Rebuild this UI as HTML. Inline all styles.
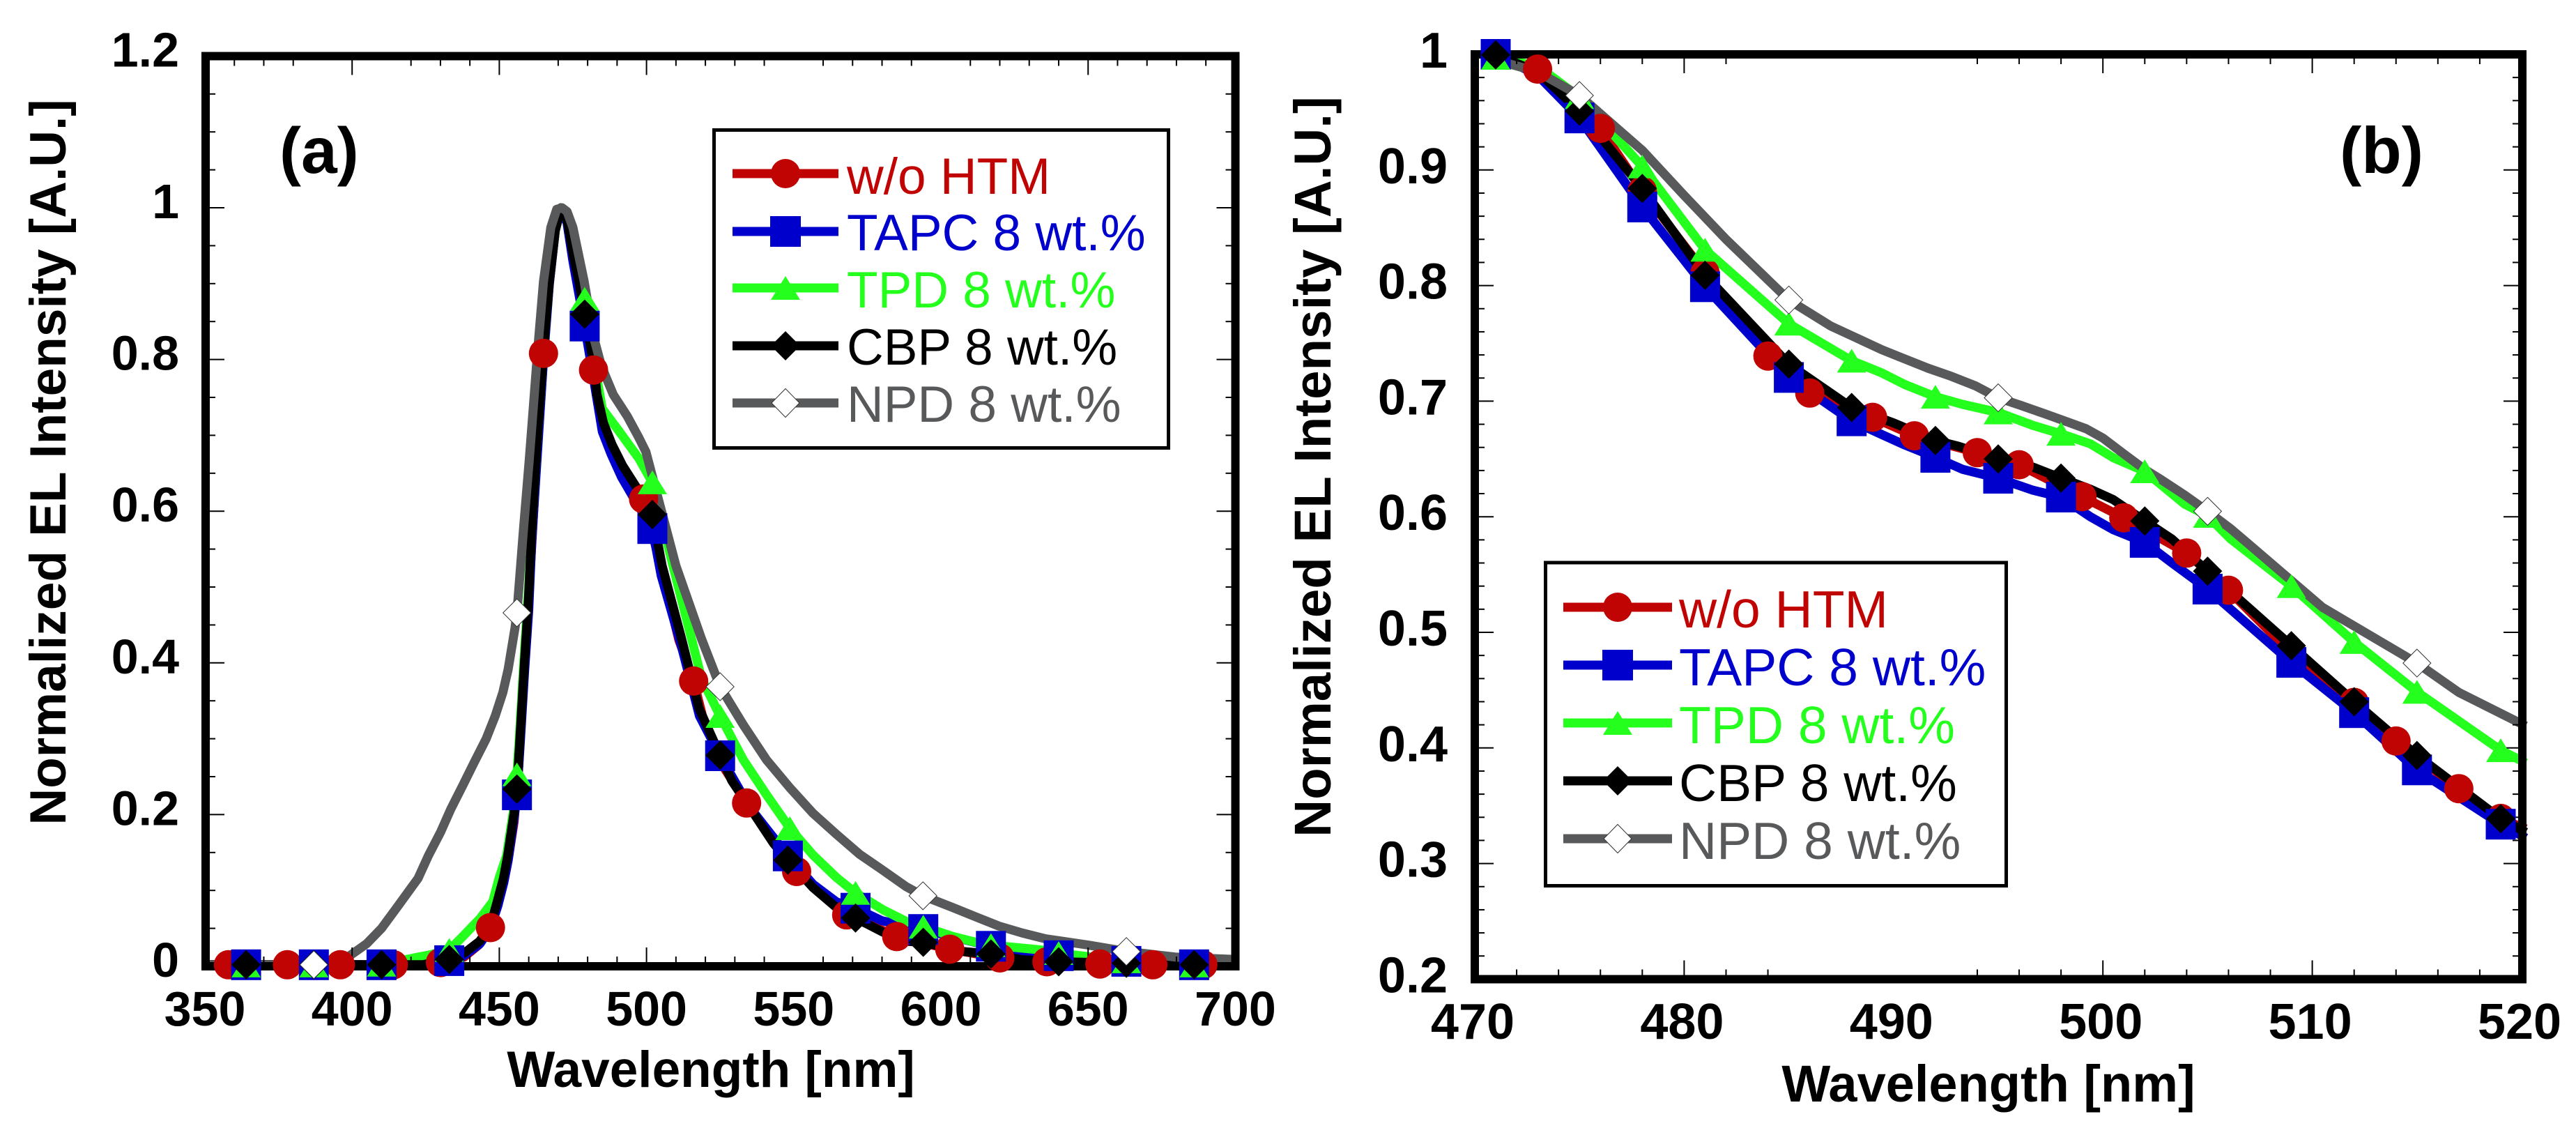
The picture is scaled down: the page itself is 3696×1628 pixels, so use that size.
<!DOCTYPE html>
<html lang="en">
<head>
<meta charset="utf-8">
<title>Normalized EL Intensity spectra</title>
<style>
html,body{margin:0;padding:0;background:#fff}
svg{display:block}
text{font-family:"Liberation Sans",Arial,sans-serif;fill:#000}
.b{font-weight:bold}
.tick{font-weight:bold;font-size:70px}
.tickb{font-weight:bold;font-size:72px}
.leg{font-size:73px}
</style>
</head>
<body>
<svg xmlns="http://www.w3.org/2000/svg" width="3696" height="1628" viewBox="0 0 3696 1628">
  <rect x="0" y="0" width="3696" height="1628" fill="#fff"/>

  <!-- Panel (a) -->
  <g id="a-lines"></g>
  <rect x="295" y="80.5" width="1477.5" height="1305.5" fill="none" stroke="#000" stroke-width="12"/>
  <g id="a-ticks"></g>
  <g id="a-marks"></g>
  <text x="1020" y="1559" text-anchor="middle" class="b" font-size="73">Wavelength [nm]</text>
  <text transform="translate(94,663) rotate(-90)" text-anchor="middle" class="b" font-size="73">Normalized EL Intensity [A.U.]</text>
  <text x="401" y="248" class="b" font-size="93">(a)</text>
  <g>
    <rect x="1024.5" y="186.5" width="652" height="456" fill="#fff" stroke="#000" stroke-width="5"/>
    <g><rect x="1051" y="242.5" width="152" height="13" fill="#C00404"/><circle cx="1127" cy="249" r="21" fill="#C00404"/><text x="1215" y="278" class="leg" style="fill:#C00404">w/o HTM</text></g>
    <g><rect x="1051" y="325.5" width="152" height="13" fill="#0000CC"/><rect x="1105" y="310" width="44" height="44" fill="#0000CC"/><text x="1215" y="359" class="leg" style="fill:#0000CC">TAPC 8 wt.%</text></g>
    <g><rect x="1051" y="406.5" width="152" height="13" fill="#25FF1E"/><polygon points="1127,396 1148,430 1106,430" fill="#25FF1E"/><text x="1215" y="441" class="leg" style="fill:#25FF1E">TPD 8 wt.%</text></g>
    <g><rect x="1051" y="489.5" width="152" height="13" fill="#000"/><polygon points="1127,475 1148,496 1127,517 1106,496" fill="#000"/><text x="1215" y="523" class="leg" style="fill:#000">CBP 8 wt.%</text></g>
    <g><rect x="1051" y="571.5" width="152" height="13" fill="#58595B"/><polygon points="1127,557.5 1147,578 1127,598.5 1107,578" fill="#fff" stroke="#333" stroke-width="1"/><text x="1215" y="605" class="leg" style="fill:#58595B">NPD 8 wt.%</text></g>
  </g>

  <!-- Panel (b) -->
  <g id="b-lines"></g>
  <rect x="2116" y="78" width="1503" height="1326.5" fill="none" stroke="#000" stroke-width="12"/>
  <g id="b-ticks"></g>
  <g id="b-marks"></g>
  <text x="2853" y="1580" text-anchor="middle" class="b" font-size="74">Wavelength [nm]</text>
  <text transform="translate(1909,669.5) rotate(-90)" text-anchor="middle" class="b" font-size="74.5">Normalized EL Intensity [A.U.]</text>
  <text x="3357" y="248" class="b" font-size="94">(b)</text>
  <g>
    <rect x="2217.5" y="807" width="661" height="463.5" fill="#fff" stroke="#000" stroke-width="5"/>
    <g><rect x="2243" y="864.5" width="156" height="13" fill="#C00404"/><circle cx="2321" cy="871" r="21" fill="#C00404"/><text x="2409" y="900" class="leg" style="fill:#C00404;font-size:75px">w/o HTM</text></g>
    <g><rect x="2243" y="947.5" width="156" height="13" fill="#0000CC"/><rect x="2299" y="932" width="44" height="44" fill="#0000CC"/><text x="2409" y="983" class="leg" style="fill:#0000CC;font-size:75px">TAPC 8 wt.%</text></g>
    <g><rect x="2243" y="1030.5" width="156" height="13" fill="#25FF1E"/><polygon points="2321,1020 2342,1054 2300,1054" fill="#25FF1E"/><text x="2409" y="1066" class="leg" style="fill:#25FF1E;font-size:75px">TPD 8 wt.%</text></g>
    <g><rect x="2243" y="1113.5" width="156" height="13" fill="#000"/><polygon points="2321,1099 2342,1120 2321,1141 2300,1120" fill="#000"/><text x="2409" y="1149" class="leg" style="fill:#000;font-size:75px">CBP 8 wt.%</text></g>
    <g><rect x="2243" y="1196.5" width="156" height="13" fill="#58595B"/><polygon points="2321,1182.5 2341,1203 2321,1223.5 2301,1203" fill="#fff" stroke="#333" stroke-width="1"/><text x="2409" y="1232" class="leg" style="fill:#58595B;font-size:75px">NPD 8 wt.%</text></g>
  </g>
</svg>
<script>
/* ---------- Panel (a) data: wavelength [nm] and normalized intensity ---------- */
const aRedWl = [350,358,378,396,414,430,438,443,447,449.5,451.5,453,455,456.5,458,459.5,461,463,465,467,469,471,473,475,479,482,485,488,491,495,499,505,511,516,519,525,534,551,568,585,603,620,636,654,672,689,700];
const aRedVal = [.002,.002,.002,.002,.002,.005,.012,.028,.051,.08,.11,.14,.19,.26,.36,.46,.555,.69,.808,.9,.97,1,.985,.94,.855,.786,.71,.68,.655,.635,.616,.525,.43,.376,.33,.27,.2153,.125,.0677,.0392,.0225,.011,.006,.003,.002,.002,.002];
const aRedMarks = [358,378,396,414,430,447,465,482,499,516,534,551,568,585,603,620,636,654,672,689];

const aBlueWl = [350,364,387,410,424,433,438,443.5,447,449.5,451.5,453,455,456,457.2,458.6,460,461,463,465,467,469,471,473,475,479,482,485,488,491.5,496,502,505,512,518,525,535,548,556.6,564.5,571,580,594,617,640,663,686,700];
const aBlueVal = [.002,.002,.002,.002,.002,.0074,.014,.03,.05,.08,.11,.14,.195,.226,.3,.39,.47,.56,.68,.8,.9,.97,1,.98,.93,.844,.775,.705,.675,.645,.615,.577,.515,.42,.33,.2776,.21,.1455,.108,.085,.0766,.06,.0485,.0264,.014,.0065,.002,.002];
const aBlueMarks = [364,387,410,433,456,479,502,525,548,571,594,617,640,663,686];

const aGreenWl = [350,364,387,410,422.4,426.4,433,437.5,443.6,447.8,449.9,452.5,455,456,456.8,458.2,459.7,461,463,465,467,469,471,473,475,479,482,485,490.4,497.5,502,509,518.7,525,532.9,540.8,548.7,556.6,564.5,571,580.3,588.2,594,604,611.8,617,635.5,640,663,686,700];
const aGreenVal = [.001,.001,.001,.002,.012,.015,.0215,.039,.0637,.0853,.1159,.1464,.21,.253,.3,.3915,.4835,.575,.7,.81,.905,.97,1,.985,.945,.88,.8,.735,.707,.669,.638,.528,.3794,.33,.2721,.226,.182,.1465,.1172,.0968,.0745,.0592,.0521,.0393,.0317,.0279,.021,.0175,.0065,.001,.001];
const aGreenMarks = [364,387,410,433,456,479,502,525,548.7,571,594,617,640,663,686];

const aBlackWl = [350,364,387,410,424,433,438.2,443.3,446.9,449.3,451.4,452.9,455,456,457,458.4,459.9,461,463,465,467,469,471,473,475,477,479,482,483.2,485.4,488.3,491.9,496.6,502,505.3,511.7,517.9,525,529,536.9,543.2,548,556.6,564.5,571,580.3,588,594,607.6,617,627.6,640,663,686,700];
const aBlackVal = [.002,.002,.002,.002,.002,.009,.0178,.033,.052,.0853,.1159,.1464,.2016,.2336,.3,.3915,.4835,.575,.7,.81,.903,.97,1,.985,.94,.903,.8597,.795,.7537,.7161,.6877,.6599,.6314,.5956,.528,.435,.3394,.2782,.2445,.1986,.1618,.14,.1036,.0775,.0637,.045,.0331,.0316,.0195,.0162,.0086,.006,.004,.002,.002];
const aBlackMarks = [364,387,410,433,456,479,502,525,548,571,594,617,640,663,686];

const aGrayWl = [350,387,394,398.5,405,410,415.5,422.4,426,430.1,433.6,437.6,441.5,445.5,448.6,451.2,453,455.35,456,458.2,460.2,463,465,467.5,469.5,471.3,473,475,478.8,482,484.7,488.7,493.5,497.4,499.8,503,510,518.7,525,532.9,540.8,548.7,556.6,564.5,572.3,580.3,588.2,593.9,604,611.8,619.7,627.6,635.5,650,663,680,700];
const aGrayVal = [.002,.002,.005,.012,.03,.05,.079,.1159,.1465,.1771,.2078,.2384,.269,.2996,.33,.361,.3915,.4467,.466,.575,.669,.81,.903,.974,.998,1,.995,.974,.903,.83,.791,.7537,.725,.697,.678,.631,.528,.4314,.3686,.3181,.272,.2353,.2016,.1741,.1479,.1266,.105,.0929,.0775,.0653,.053,.0439,.0362,.028,.0195,.012,.009];
const aGrayMarks = [387,456,525,593.9,663];

/* ---------- Panel (a) axes ---------- */
const aXTickLabels = [350,400,450,500,550,600,650,700];
const aYTickLabels = ['0','0.2','0.4','0.6','0.8','1','1.2'];
const aYTickValues = [0,.2,.4,.6,.8,1,1.2];
const aYMinor = [.05,.1,.15,.25,.3,.35,.45,.5,.55,.65,.7,.75,.85,.9,.95,1.05,1.1,1.15];
const aTopMajor = [400,450,500,650];
const aTopMinor = [360,370,380,420,430,440,470,480,490,510,520,530,540,560,570,580,590,610,620,630,640,660,670,680,690];
const aBottomMajor = [400,450,500,650];
const aBottomMinor = [360,370,380,420,430,440,460,470,480,490,510,520,530,540,560,570,580,590,610,620,630,640,660,670,680,690];

/* ---------- Panel (b) data ---------- */
const bRedWl = [471,473,476,478,481,484,486,489,491,494,496,499,501,504,506,509,512,514,517,519,520.2];
const bRedVal = [.999,.9873,.936,.882,.811,.739,.707,.686,.67,.6554,.645,.6174,.5991,.5686,.5364,.482,.4394,.406,.3648,.339,.33];
const bRedMarks = [473,476,478,481,484,486,489,491,494,496,499,501,504,506,509,512,514,517,519];

const bBlueWl = [471,473,475,478,481,485,488,489.44,490.55,492,493.3,495,496.65,498,499.4,500.5,502,503.3,505,509,512,515,519,520.2];
const bBlueVal = [1,.982,.945,.868,.799,.7205,.683,.6711,.662,.6514,.641,.6333,.623,.617,.6,.5887,.5778,.56,.5374,.474,.4305,.381,.334,.322];
const bBlueMarks = [471,475,478,481,485,488,492,495,498,502,505,509,512,515,519];

const bGreenWl = [471,473,475,478,481,485,488,489.44,490.55,492,493.3,495,496.65,498,499.4,500.5,502,503.9,505,506.1,509,512,515,519,520.2];
const bGreenVal = [.997,.99,.963,.903,.831,.767,.735,.7244,.7143,.7038,.6972,.6902,.6791,.6717,.6631,.651,.6393,.611,.6007,.5808,.54,.4916,.4485,.398,.387];
const bGreenMarks = [471,475,478,481,485,488,492,495,498,502,505,509,512,515,519];

const bBlackWl = [471,473,475,478,481,485,488,490,492,493.1,495,496.65,498,499.4,500.5,502,503.3,505,509,512,515,519,520.2];
const bBlackVal = [.9995,.985,.951,.884,.809,.732,.6945,.6812,.666,.661,.65,.643,.6335,.6238,.6148,.5963,.5807,.5529,.4885,.44,.3935,.3387,.327];
const bBlackMarks = [471,475,478,481,485,488,492,495,498,502,505,509,512,515,519];

const bGrayWl = [471,473,475,478,480,482,485,487,489.44,490.55,491.66,492.77,493.9,495,496.1,497.2,498.3,499.2,500,501.1,502,502.8,503.9,505,506.1,506.75,510.5,515,517,520.2];
const bGrayVal = [.995,.985,.9644,.917,.878,.84,.7875,.765,.7445,.7364,.7284,.7214,.7133,.7029,.6962,.6892,.6821,.6761,.6681,.653,.6409,.6319,.6188,.6047,.5897,.5796,.5215,.4734,.448,.419];
const bGrayMarks = [475,485,495,505,515];

/* ---------- Panel (b) axes ---------- */
const bXTickLabels = [470,480,490,500,510,520];
const bYTickLabels = ['0.2','0.3','0.4','0.5','0.6','0.7','0.8','0.9','1'];
const bYTickValues = [.2,.3,.4,.5,.6,.7,.8,.9,1];
const bYMinor = [.22,.24,.26,.28,.32,.34,.36,.38,.42,.44,.46,.48,.52,.54,.56,.58,.62,.64,.66,.68,.72,.74,.76,.78,.82,.84,.86,.88,.92,.94,.96,.98];
const bTopMajor = [480,500,510];
const bTopMinor = [472,474,476,478,482,494,496,498,502,504,506,508,512,514,516,518];
const bBottomMajor = [480,500,510];
const bBottomMinor = [472,474,476,478,482,484,494,496,498,502,504,506,508,512,514,516,518];

/* ---------- Axis functions ---------- */
const xA = w => 294 + (w - 350) * 4.224;
const yA = v => 1386 - v * 1088;
const xB = w => 2116 + (w - 470) * 30.04;
const yB = v => 78 + (1 - v) * 1658;

const NS = 'http://www.w3.org/2000/svg';
const COLORS = {red:'#C00404', blue:'#0000CC', green:'#25FF1E', black:'#000000', gray:'#58595B'};

function make(tag, parent, attrs) {
  const el = document.createElementNS(NS, tag);
  for (const k in attrs) el.setAttribute(k, attrs[k]);
  parent.appendChild(el);
  return el;
}

function drawLine(parent, wl, val, color, xf, yf, name) {
  const pts = wl.map((w, i) => xf(w).toFixed(1) + ',' + yf(val[i]).toFixed(1)).join(' ');
  const el = make('polyline', parent, {points: pts, fill: 'none', stroke: color, 'stroke-width': 13, 'stroke-linejoin': 'round'});
  
  
}

function drawMarker(parent, kind, cx, cy, name) {
  let el;
  if (kind === 'circle') {
    el = make('circle', parent, {cx: cx, cy: cy, r: 21, fill: COLORS.red});
  } else if (kind === 'square') {
    el = make('rect', parent, {x: cx - 21.5, y: cy - 22, width: 43, height: 44, fill: COLORS.blue});
  } else if (kind === 'triangle') {
    el = make('polygon', parent, {points: cx + ',' + (cy - 17) + ' ' + (cx + 21) + ',' + (cy + 17) + ' ' + (cx - 21) + ',' + (cy + 17), fill: COLORS.green});
  } else {
    const white = kind === 'white';
    const r = white ? 20 : 21;
    el = make('polygon', parent, {points: cx + ',' + (cy - r) + ' ' + (cx + r) + ',' + cy + ' ' + cx + ',' + (cy + r) + ' ' + (cx - r) + ',' + cy,
      fill: white ? '#fff' : '#000', stroke: white ? '#333' : 'none', 'stroke-width': 1});
  }
  
  
}

function drawMarkers(parent, marks, wl, val, kind, xf, yf, name) {
  marks.forEach(m => {
    const i = wl.indexOf(m);
    drawMarker(parent, kind, +xf(m).toFixed(1), +yf(val[i]).toFixed(1), name);
  });
}

function drawTick(parent, x1, y1, x2, y2, name) {
  const el = make('line', parent, {x1: x1, y1: y1, x2: x2, y2: y2, stroke: '#000', 'stroke-width': 2});
  
  
}

function drawLabel(parent, x, y, txt, anchor, cls, name) {
  const el = make('text', parent, {x: x, y: y, 'text-anchor': anchor, 'class': cls});
  el.textContent = txt;
  
  
}

function drawAxes(g, xf, yf, L, R, T, B, cfg) {
  const MAJ = 27, MIN = 14;
  cfg.topMajor.forEach(w => drawTick(g, xf(w), T, xf(w), T + MAJ, 'top-major-tick'));
  cfg.topMinor.forEach(w => drawTick(g, xf(w), T, xf(w), T + MIN, 'top-minor-tick'));
  cfg.bottomMajor.forEach(w => drawTick(g, xf(w), B, xf(w), B - MAJ, 'bottom-major-tick'));
  cfg.bottomMinor.forEach(w => drawTick(g, xf(w), B, xf(w), B - MIN, 'bottom-minor-tick'));
  cfg.yValues.forEach(v => {
    drawTick(g, L, yf(v), L + MAJ, yf(v), 'left-major-tick');
    drawTick(g, R, yf(v), R - MAJ, yf(v), 'right-major-tick');
  });
  cfg.yMinor.forEach(v => {
    drawTick(g, L, yf(v), L + MIN, yf(v), 'left-minor-tick');
    drawTick(g, R, yf(v), R - MIN, yf(v), 'right-minor-tick');
  });
  cfg.xLabels.forEach(w => drawLabel(g, xf(w) + cfg.xLabelDx, cfg.xLabelY, String(w), 'middle', cfg.cls, 'x-tick-label'));
  cfg.yValues.forEach((v, i) => drawLabel(g, cfg.yLabelX, yf(v) + cfg.yLabelDy, cfg.yLabels[i], 'end', cfg.cls, 'y-tick-label'));
}

/* ---------- Draw panel (a) ---------- */
(function () {
  const lines = document.getElementById('a-lines');
  const marks = document.getElementById('a-marks');
  const ticks = document.getElementById('a-ticks');
  drawLine(lines, aRedWl, aRedVal, COLORS.red, xA, yA, 'line-wo-htm');
  drawLine(lines, aBlueWl, aBlueVal, COLORS.blue, xA, yA, 'line-tapc');
  drawLine(lines, aGreenWl, aGreenVal, COLORS.green, xA, yA, 'line-tpd');
  drawLine(lines, aBlackWl, aBlackVal, COLORS.black, xA, yA, 'line-cbp');
  drawLine(lines, aGrayWl, aGrayVal, COLORS.gray, xA, yA, 'line-npd');
  drawMarkers(marks, aRedMarks, aRedWl, aRedVal, 'circle', xA, yA, 'marker-wo-htm');
  drawMarkers(marks, aBlueMarks, aBlueWl, aBlueVal, 'square', xA, yA, 'marker-tapc');
  drawMarkers(marks, aGreenMarks, aGreenWl, aGreenVal, 'triangle', xA, yA, 'marker-tpd');
  drawMarkers(marks, aBlackMarks, aBlackWl, aBlackVal, 'diamond', xA, yA, 'marker-cbp');
  drawMarkers(marks, aGrayMarks, aGrayWl, aGrayVal, 'white', xA, yA, 'marker-npd');
  drawAxes(ticks, xA, yA, 295, 1772.5, 80.5, 1386, {
    topMajor: aTopMajor, topMinor: aTopMinor, bottomMajor: aBottomMajor, bottomMinor: aBottomMinor,
    yValues: aYTickValues, yMinor: aYMinor, xLabels: aXTickLabels, yLabels: aYTickLabels,
    xLabelDx: 0, xLabelY: 1471, yLabelX: 257, yLabelDy: 15, cls: 'tick'
  });
})();

/* ---------- Draw panel (b) ---------- */
(function () {
  const lines = document.getElementById('b-lines');
  const marks = document.getElementById('b-marks');
  const ticks = document.getElementById('b-ticks');
  drawLine(lines, bRedWl, bRedVal, COLORS.red, xB, yB, 'line-wo-htm');
  drawLine(lines, bBlueWl, bBlueVal, COLORS.blue, xB, yB, 'line-tapc');
  drawLine(lines, bGreenWl, bGreenVal, COLORS.green, xB, yB, 'line-tpd');
  drawLine(lines, bBlackWl, bBlackVal, COLORS.black, xB, yB, 'line-cbp');
  drawLine(lines, bGrayWl, bGrayVal, COLORS.gray, xB, yB, 'line-npd');
  drawMarkers(marks, bRedMarks, bRedWl, bRedVal, 'circle', xB, yB, 'marker-wo-htm');
  drawMarkers(marks, bBlueMarks, bBlueWl, bBlueVal, 'square', xB, yB, 'marker-tapc');
  drawMarkers(marks, bGreenMarks, bGreenWl, bGreenVal, 'triangle', xB, yB, 'marker-tpd');
  drawMarkers(marks, bBlackMarks, bBlackWl, bBlackVal, 'diamond', xB, yB, 'marker-cbp');
  drawMarkers(marks, bGrayMarks, bGrayWl, bGrayVal, 'white', xB, yB, 'marker-npd');
  drawAxes(ticks, xB, yB, 2116, 3619, 78, 1404.5, {
    topMajor: bTopMajor, topMinor: bTopMinor, bottomMajor: bBottomMajor, bottomMinor: bBottomMinor,
    yValues: bYTickValues, yMinor: bYMinor, xLabels: bXTickLabels, yLabels: bYTickLabels,
    xLabelDx: -3, xLabelY: 1490, yLabelX: 2077, yLabelDy: 19, cls: 'tickb'
  });
})();
</script>
</body>
</html>
